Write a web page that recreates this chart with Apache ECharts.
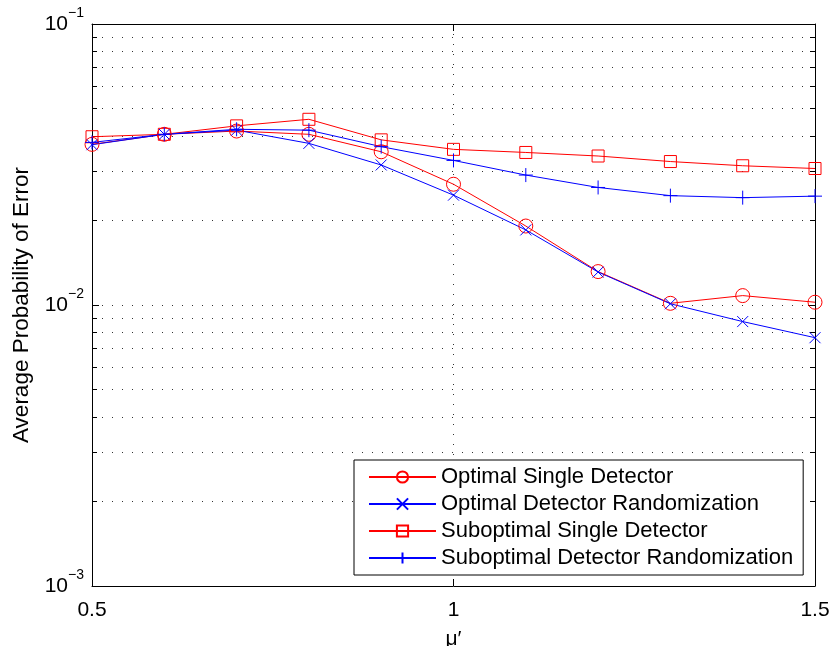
<!DOCTYPE html>
<html>
<head>
<meta charset="utf-8">
<script src="https://cdn.jsdelivr.net/npm/echarts@6/dist/echarts.min.js"></script>
<style>
html,body{margin:0;padding:0;background:#fff;}
#chart{width:833px;height:646px;}
</style>
</head>
<body>
<div id="chart"></div>
<script>
// ---- data ----
var muValues = [0.5, 0.6, 0.7, 0.8, 0.9, 1.0, 1.1, 1.2, 1.3, 1.4, 1.5];
var optimalSingle = [0.0373, 0.0405, 0.0416, 0.0405, 0.0351, 0.0269, 0.0191, 0.01315, 0.01014, 0.0108, 0.01023];
var optimalRandom = [0.0372, 0.0405, 0.0419, 0.0376, 0.0315, 0.0246, 0.0185, 0.0131, 0.0101, 0.00873, 0.00765];
var suboptSingle = [0.0397, 0.0405, 0.0434, 0.0458, 0.0387, 0.0358, 0.0349, 0.0339, 0.0324, 0.0313, 0.0306];
var suboptRandom = [0.0379, 0.0405, 0.0422, 0.0419, 0.0366, 0.0327, 0.0290, 0.0262, 0.0245, 0.0241, 0.0244];
var seriesNames = ['Optimal Single Detector', 'Optimal Detector Randomization', 'Suboptimal Single Detector', 'Suboptimal Detector Randomization'];
var xTicks = [0.5, 1, 1.5];
var yMajorTicks = [0.001, 0.01, 0.1];
var yMinorTicks = [0.002, 0.003, 0.004, 0.005, 0.006, 0.007, 0.008, 0.009,
                   0.02, 0.03, 0.04, 0.05, 0.06, 0.07, 0.08, 0.09];
var xAxisTitle = 'μ′';
var yAxisTitle = 'Average Probability of Error';

function pairs(ys) { return muValues.map(function (x, i) { return [x, ys[i]]; }); }

var FONT = '"Liberation Sans", Arial, Helvetica, sans-serif';
var RED = '#ff0000', BLUE = '#0000ff';
var dotted = { color: '#333', width: 1, type: [1, 9] };

function yLabel(v) {
  var e = Math.round(Math.log10(v));
  return '{b|10}{s|' + (e < 0 ? '\u2212' : '') + Math.abs(e) + '}';
}

function mkSeries(name, data, color, symbol, size) {
  return {
    name: name, type: 'line', data: pairs(data),
    xAxisIndex: 0, yAxisIndex: 0,
    color: color,
    symbol: symbol, symbolSize: size, showSymbol: true,
    lineStyle: { color: color, width: 1 },
    itemStyle: { color: 'transparent', borderColor: color, borderWidth: 1 },
    emphasis: { disabled: true },
    animation: false
  };
}

var chart = echarts.init(document.getElementById('chart'), null, { renderer: 'canvas' });
var option = {
  animation: false,
  backgroundColor: '#fff',
  grid: { left: 92, right: 18, top: 24, bottom: 60, containLabel: false, outerBoundsMode: 'none' },
  legend: {
    orient: 'vertical',
    left: 354, top: 460,
    padding: [6, 10, 6, 14],
    itemGap: 5,
    itemWidth: 67, itemHeight: 14,
    backgroundColor: '#fff',
    borderColor: '#000', borderWidth: 1,
    textStyle: { fontFamily: FONT, fontSize: 22, color: '#000', lineHeight: 22 },
    data: seriesNames
  },
  xAxis: [
    {
      type: 'value', position: 'bottom', min: 0.5, max: 1.5, interval: 0.5,
      name: xAxisTitle, nameLocation: 'middle', nameGap: 43,
      nameTextStyle: { fontFamily: FONT, fontSize: 21, color: '#000' },
      axisLine: { show: true, onZero: false, lineStyle: { color: '#000', width: 1 } },
      axisTick: { show: true, inside: true, length: 7, lineStyle: { color: '#000' }, customValues: xTicks },
      axisLabel: { show: true, margin: 14, fontFamily: FONT, fontSize: 21, color: '#000',
                   customValues: xTicks, formatter: function (v) { return String(v); } },
      splitLine: { show: true, lineStyle: dotted }
    },
    {
      type: 'value', position: 'top', min: 0.5, max: 1.5, interval: 0.5,
      axisLine: { show: true, onZero: false, lineStyle: { color: '#000', width: 1 } },
      axisTick: { show: true, inside: true, length: 7, lineStyle: { color: '#000' }, customValues: xTicks },
      axisLabel: { show: false },
      splitLine: { show: false }
    }
  ],
  yAxis: [
    {
      type: 'log', logBase: 10, position: 'left', min: 0.001, max: 0.1,
      name: yAxisTitle, nameLocation: 'middle', nameGap: 58,
      nameTextStyle: { fontFamily: FONT, fontSize: 22.5, color: '#000' },
      axisLine: { show: true, onZero: false, lineStyle: { color: '#000', width: 1 } },
      axisTick: { show: true, inside: true, length: 7, lineStyle: { color: '#000' }, customValues: yMajorTicks },
      axisLabel: {
        show: true, margin: 8, customValues: yMajorTicks, formatter: yLabel,
        rich: {
          b: { fontFamily: FONT, fontSize: 21, color: '#000', lineHeight: 36 },
          s: { fontFamily: FONT, fontSize: 14, color: '#000', lineHeight: 14, padding: [0, 0, 22, 0] }
        }
      },
      splitLine: { show: true, lineStyle: dotted }
    },
    {
      type: 'log', logBase: 10, position: 'left', min: 0.001, max: 0.1,
      axisLine: { show: false },
      axisTick: { show: true, inside: true, length: 5, lineStyle: { color: '#000' }, customValues: yMinorTicks },
      axisLabel: { show: false },
      splitLine: { show: true, lineStyle: dotted }
    },
    {
      type: 'log', logBase: 10, position: 'right', min: 0.001, max: 0.1,
      axisLine: { show: true, onZero: false, lineStyle: { color: '#000', width: 1 } },
      axisTick: { show: true, inside: true, length: 7, lineStyle: { color: '#000' }, customValues: yMajorTicks },
      axisLabel: { show: false },
      splitLine: { show: false }
    },
    {
      type: 'log', logBase: 10, position: 'right', min: 0.001, max: 0.1,
      axisLine: { show: false },
      axisTick: { show: true, inside: true, length: 5, lineStyle: { color: '#000' }, customValues: yMinorTicks },
      axisLabel: { show: false },
      splitLine: { show: false }
    }
  ],
  series: [
    mkSeries(seriesNames[0], optimalSingle, RED, 'circle', 14),
    mkSeries(seriesNames[1], optimalRandom, BLUE, 'path://M0,0L10,10M10,0L0,10', 11),
    mkSeries(seriesNames[2], suboptSingle, RED, 'rect', 12),
    mkSeries(seriesNames[3], suboptRandom, BLUE, 'path://M5,0L5,10M0,5L10,5', 14)
  ]
};
chart.setOption(option);
</script>
</body>
</html>
